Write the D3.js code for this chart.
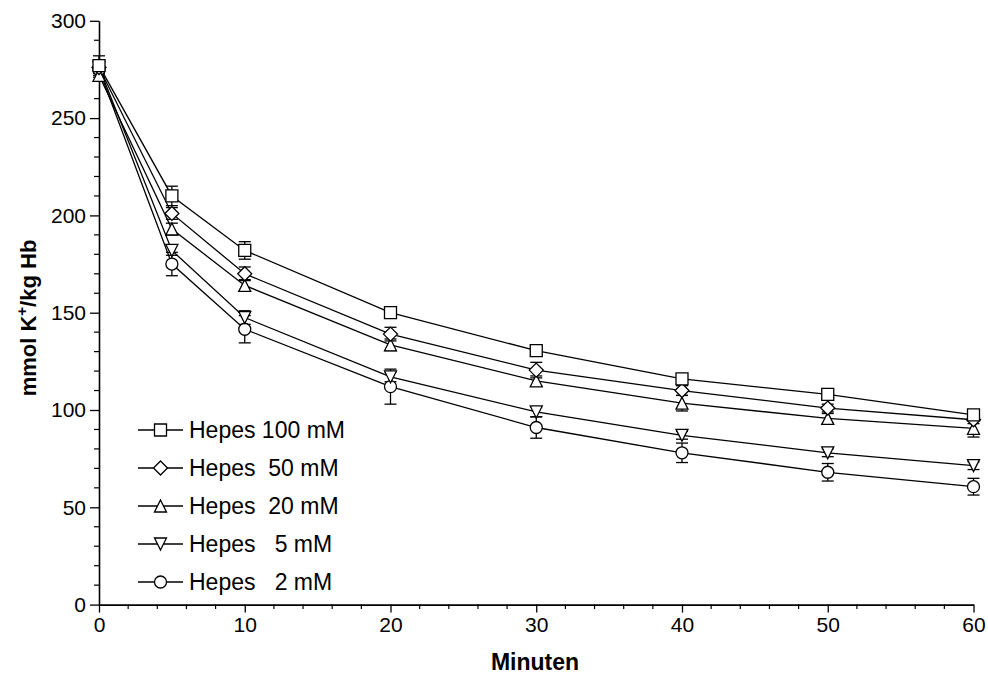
<!DOCTYPE html>
<html>
<head>
<meta charset="utf-8">
<script src="https://cdn.jsdelivr.net/npm/d3@7"></script>
<style>
  html, body { margin: 0; padding: 0; background: #fff; }
  svg { display: block; font-family: "Liberation Sans", Arial, sans-serif; }
  text { white-space: pre; }
</style>
</head>
<body>
<svg id="chart" width="988" height="680"></svg>
<script>
// Time points (minutes)
const minutes = [0, 5, 10, 20, 30, 40, 50, 60];

// Series labels (legend text)
const seriesNames = ["Hepes 100 mM", "Hepes  50 mM", "Hepes  20 mM", "Hepes   5 mM", "Hepes   2 mM"];

// Mean K+ content, mmol/kg Hb
const hepes100 = [277, 210, 182, 150, 130.5, 116, 108, 97.5];
const hepes50  = [276, 201, 170, 139, 120.5, 110, 101, 95];
const hepes20  = [272, 193, 164, 133.5, 115, 103.5, 95.7, 90.6];
const hepes5   = [276, 182, 147.5, 117, 99, 87, 78, 71.4];
const hepes2   = [275, 175, 141.5, 112, 91, 78, 68, 60.6];

// Error bar half-widths (SD)
const err100 = [5, 5, 4.5, 2, 2, 2, 2, 2];
const err50  = [3, 3, 3.5, 3.5, 4, 2.5, 2, 2];
const err20  = [3, 3, 3, 3, 2.5, 4, 2.5, 4.5];
const err5   = [3, 2.5, 3.5, 2.5, 2.5, 2, 2, 2];
const err2   = [4, 6, 7, 9, 5.5, 5, 4.5, 4.3];

// Axis ticks
const xMajorTicks = [0, 10, 20, 30, 40, 50, 60];
const yMajorTicks = [0, 50, 100, 150, 200, 250, 300];

const seriesValues = [hepes100, hepes50, hepes20, hepes5, hepes2];
const seriesErrors = [err100, err50, err20, err5, err2];
const markerKinds = ["square", "diamond", "triangleUp", "triangleDown", "circle"];

const svg = d3.select("#chart");
const x = d3.scaleLinear().domain([0, 60]).range([99, 973.5]);
const y = d3.scaleLinear().domain([0, 300]).range([604.6, 20.8]);

const strokeW = 1.3;
const markerSize = 12;

// Marker path generator centred on (0,0)
function markerPath(kind, s) {
  const h = s / 2;
  switch (kind) {
    case "square": return `M${-h},${-h}H${h}V${h}H${-h}Z`;
    case "diamond": return `M0,${-h - 1}L${h + 1},0L0,${h + 1}L${-h - 1},0Z`;
    case "triangleUp": return `M0,${-h}L${h},${h}L${-h},${h}Z`;
    case "triangleDown": return `M0,${h}L${h},${-h}L${-h},${-h}Z`;
    case "circle": return d3.arc()({innerRadius: 0, outerRadius: h, startAngle: 0, endAngle: 2 * Math.PI});
  }
}

// Axes
const xAxis = svg.append("g").attr("transform", `translate(0,${y(0)})`);
xAxis.call(d3.axisBottom(x).tickValues(xMajorTicks).tickSize(8).tickSizeOuter(0).tickPadding(4));
xAxis.append("g").selectAll("line").data(d3.range(0, 61, 2).filter(v => v % 10 !== 0))
  .join("line").attr("x1", d => x(d)).attr("x2", d => x(d)).attr("y1", 0).attr("y2", 4.5)
  .attr("stroke", "#000").attr("stroke-width", 1.2);

const yAxis = svg.append("g").attr("transform", `translate(${x(0)},0)`);
yAxis.call(d3.axisLeft(y).tickValues(yMajorTicks).tickSize(9).tickSizeOuter(0).tickPadding(4));
yAxis.append("g").selectAll("line").data(d3.range(0, 301, 10).filter(v => v % 50 !== 0))
  .join("line").attr("y1", d => y(d)).attr("y2", d => y(d)).attr("x1", 0).attr("x2", -5)
  .attr("stroke", "#000").attr("stroke-width", 1.2);

[xAxis, yAxis].forEach(g => {
  g.selectAll(".domain").attr("stroke", "#000").attr("stroke-width", 1.6);
  g.selectAll(".tick line").attr("stroke", "#000").attr("stroke-width", 1.3);
  g.selectAll(".tick text").attr("font-size", 21).attr("fill", "#000")
    .attr("font-family", "Liberation Sans, Arial, sans-serif");
});

// Axis titles
svg.append("text").attr("x", 535).attr("y", 670).attr("text-anchor", "middle")
  .attr("font-size", 23).attr("font-weight", "bold").text("Minuten");

const yt = svg.append("text").attr("transform", `translate(36,318) rotate(-90)`)
  .attr("text-anchor", "middle").attr("font-size", 22).attr("font-weight", "bold");
yt.append("tspan").text("mmol K");
yt.append("tspan").attr("dy", -9).attr("font-size", 15).text("+");
yt.append("tspan").attr("dy", 9).text("/kg Hb");

// Series
const line = d3.line().x((d, i) => x(minutes[i])).y(d => y(d));
const plot = svg.append("g");

seriesValues.forEach(vals => {
  plot.append("path").datum(vals).attr("d", line)
    .attr("fill", "none").attr("stroke", "#000").attr("stroke-width", strokeW);
});

seriesValues.forEach((vals, s) => {
  const errs = seriesErrors[s];
  const g = plot.append("g");
  vals.forEach((v, i) => {
    const cx = x(minutes[i]);
    const top = y(v + errs[i]), bot = y(v - errs[i]);
    g.append("line").attr("x1", cx).attr("x2", cx).attr("y1", top).attr("y2", bot)
      .attr("stroke", "#000").attr("stroke-width", strokeW);
    [top, bot].forEach(yy => g.append("line").attr("x1", cx - 6).attr("x2", cx + 6)
      .attr("y1", yy).attr("y2", yy).attr("stroke", "#000").attr("stroke-width", strokeW));
  });
});

// Markers: lowest concentration first so the 100 mM squares sit on top
d3.range(seriesValues.length).reverse().forEach(s => {
  plot.append("g").selectAll("path").data(seriesValues[s]).join("path")
    .attr("transform", (d, i) => `translate(${x(minutes[i])},${y(d)})`)
    .attr("d", markerPath(markerKinds[s], markerSize))
    .attr("fill", "#fff").attr("stroke", "#000").attr("stroke-width", strokeW);
});

// Legend
const legend = svg.append("g").attr("transform", "translate(138,430)");
seriesNames.forEach((name, i) => {
  const row = legend.append("g").attr("transform", `translate(0,${i * 38})`);
  row.append("line").attr("x1", 0).attr("x2", 45).attr("y1", 0).attr("y2", 0)
    .attr("stroke", "#000").attr("stroke-width", strokeW);
  row.append("path").attr("transform", "translate(22.5,0)")
    .attr("d", markerPath(markerKinds[i], markerSize))
    .attr("fill", "#fff").attr("stroke", "#000").attr("stroke-width", strokeW);
  row.append("text").attr("x", 51).attr("y", 8).attr("font-size", 23)
    .attr("fill", "#000").text(name);
});
</script>
</body>
</html>
